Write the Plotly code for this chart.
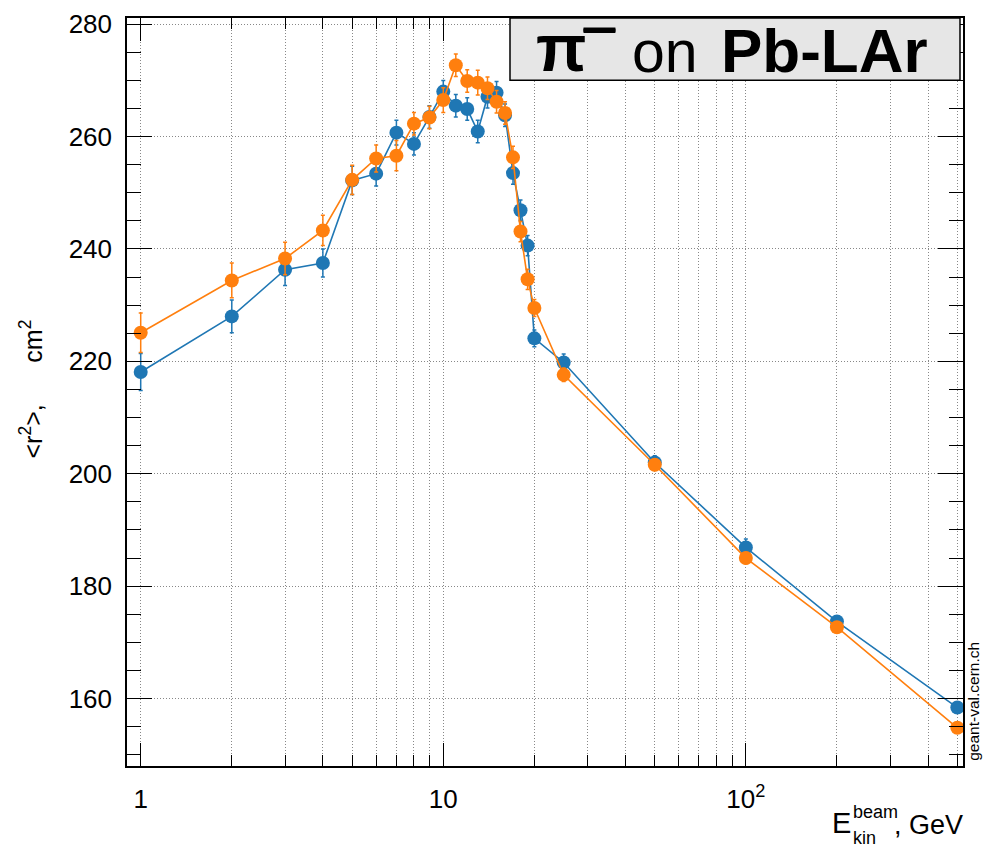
import plotly.graph_objects as go

# ---------------- data ----------------
energy = [1, 2, 3, 4, 5, 6, 7, 8, 9, 10, 11, 12, 13, 14, 15, 16, 17, 18, 19, 20, 25, 50, 100, 200, 500]
r2_blue = [218.1, 228.0, 236.3, 237.5, 252.2, 253.4, 260.7, 258.7, 263.5, 268.0, 265.5, 264.9, 260.9,
           267.1, 267.8, 263.8, 253.5, 246.9, 240.6, 224.1, 219.8, 202.0, 186.9, 173.7, 158.4]
err_blue = [3.3, 2.9, 2.8, 2.5, 2.5, 2.2, 2.2, 2.0, 2.0, 2.0, 2.0, 2.0, 2.0,
            2.0, 2.0, 2.0, 2.0, 1.8, 1.8, 1.5, 1.5, 1.2, 1.5, 1.0, 0.5]
r2_orange = [225.1, 234.4, 238.3, 243.3, 252.3, 256.1, 256.6, 262.3, 263.4, 266.5, 272.7, 269.9, 269.6,
             268.6, 266.2, 264.2, 256.3, 243.1, 234.6, 229.5, 217.6, 201.6, 185.0, 172.7, 154.8]
err_orange = [3.5, 3.1, 2.9, 2.7, 2.6, 2.4, 2.7, 2.0, 2.0, 2.2, 2.0, 2.0, 2.2,
              2.0, 2.0, 2.0, 2.0, 1.8, 1.8, 1.5, 1.2, 1.0, 1.0, 0.8, 0.5]

x_major = [1, 10, 100]
x_major_text = ["1", "10", "10<sup>2</sup>"]
x_minor = [2, 3, 4, 5, 6, 7, 8, 9, 20, 30, 40, 50, 60, 70, 80, 90, 200, 300, 400, 500]
y_major = [160, 180, 200, 220, 240, 260, 280]

BLUE = "#1f77b4"
ORANGE = "#ff7f0e"
SANS = "Liberation Sans, Arial, sans-serif"

W, H = 997, 850
L, R, T, B = 127, 34, 9, 84
PW, PH = W - L - R, H - T - B


def px2x(px):
    return (px - L) / PW


def py2y(py):
    return (H - B - py) / PH


fig = go.Figure()
for y, e, c in [(r2_blue, err_blue, BLUE), (r2_orange, err_orange, ORANGE)]:
    fig.add_trace(go.Scatter(
        x=energy, y=y, mode="lines+markers",
        line=dict(color=c, width=1.6),
        marker=dict(color=c, size=14),
        error_y=dict(type="data", array=e, color=c, thickness=1.5, width=2),
        showlegend=False,
    ))

grid = dict(gridcolor="#888888", griddash="1px,2px", gridwidth=1)

fig.update_xaxes(
    type="log", range=[-0.0453, 2.7177],
    tickmode="array", tickvals=x_major, ticktext=x_major_text,
    ticks="inside", ticklen=23, tickwidth=1.2, tickcolor="black",
    showline=True, linecolor="black", linewidth=1.5, mirror="ticks",
    showgrid=True, **grid,
    tickfont=dict(family=SANS, size=26, color="black"),
    ticklabelstandoff=9,
    minor=dict(tickmode="array", tickvals=x_minor, ticks="inside", ticklen=11,
               tickcolor="black", tickwidth=1.2, showgrid=True, **grid),
    zeroline=False,
)
fig.update_yaxes(
    range=[148, 281.1],
    tickmode="array", tickvals=y_major,
    ticks="inside", ticklen=25, tickwidth=1.2, tickcolor="black",
    showline=True, linecolor="black", linewidth=1.5, mirror="ticks",
    showgrid=True, **grid,
    tickfont=dict(family=SANS, size=26, color="black"),
    ticklabelstandoff=8,
    minor=dict(dtick=5, tick0=0, ticks="inside", ticklen=14,
               tickcolor="black", tickwidth=1.2, showgrid=False),
    zeroline=False,
)

# title box
fig.add_shape(type="rect", xref="paper", yref="paper",
              x0=px2x(510), x1=px2x(960), y0=py2y(72), y1=py2y(9),
              fillcolor="#e6e6e6", line=dict(color="black", width=1.5), layer="above")

ann = []
ann.append(dict(text="<b>π</b>", x=px2x(561), y=py2y(39), xanchor="center", yanchor="middle",
                font=dict(family=SANS, size=66, color="black")))
ann.append(dict(text="<b>¯</b>", x=px2x(599), y=py2y(8), xanchor="center", yanchor="top",
                font=dict(family=SANS, size=56, color="black",
                          shadow="0px 1px 0px black, 0px 2px 0px black, 0px 3px 0px black")))
ann.append(dict(text="on", x=px2x(665), y=py2y(43), xanchor="center", yanchor="middle",
                font=dict(family=SANS, size=59, color="black")))
ann.append(dict(text="<b>Pb-LAr</b>", x=px2x(824), y=py2y(42), xanchor="center", yanchor="middle",
                font=dict(family=SANS, size=62, color="black")))

# y-axis title
ann.append(dict(text="&lt;r<sup>2</sup>&gt;," + "\u00a0" * 6 + "cm<sup>2</sup>", x=px2x(31), y=py2y(385),
                xanchor="center", yanchor="middle", textangle=-90,
                font=dict(family=SANS, size=25, color="black")))

# x-axis title pieces
ann.append(dict(text="E", x=px2x(830), y=py2y(823.5), xanchor="left", yanchor="middle",
                font=dict(family=SANS, size=29, color="black")))
ann.append(dict(text="beam", x=px2x(851), y=py2y(813), xanchor="left", yanchor="middle",
                font=dict(family=SANS, size=18, color="black")))
ann.append(dict(text="kin", x=px2x(851), y=py2y(839), xanchor="left", yanchor="middle",
                font=dict(family=SANS, size=18, color="black")))
ann.append(dict(text=", GeV", x=px2x(892), y=py2y(825.5), xanchor="left", yanchor="middle",
                font=dict(family=SANS, size=27, color="black")))

# watermark
ann.append(dict(text="geant-val.cern.ch", x=px2x(974), y=py2y(700), xanchor="center", yanchor="middle",
                textangle=-90, font=dict(family=SANS, size=15.5, color="black")))

for a in ann:
    a.update(xref="paper", yref="paper", showarrow=False)
fig.update_layout(annotations=ann)

fig.update_layout(
    width=W, height=H,
    margin=dict(l=L, r=R, t=T, b=B, pad=0),
    paper_bgcolor="white", plot_bgcolor="white",
)

fig.write_html("out.html")
